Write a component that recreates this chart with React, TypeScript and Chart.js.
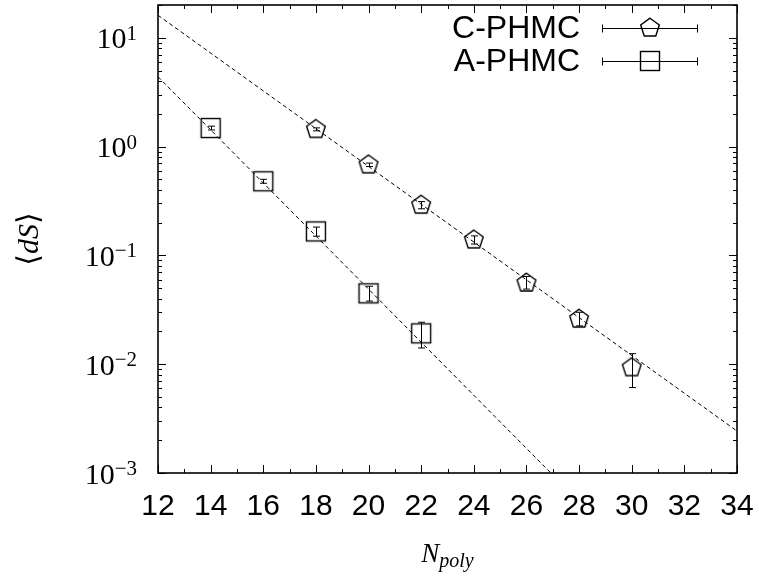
import React, { useEffect, useRef } from 'react';
import { Chart, registerables } from 'chart.js';

Chart.register(...registerables);

// C-PHMC (pentagons)
const cX = [18, 20, 22, 24, 26, 28, 30];
const cY = [1.44, 0.68, 0.29, 0.139, 0.0558, 0.026, 0.0093];
const cLo = [1.395, 0.655, 0.268, 0.127, 0.049, 0.0225, 0.0061];
const cHi = [1.485, 0.705, 0.312, 0.151, 0.064, 0.030, 0.0125];

// A-PHMC (squares)
const aX = [14, 16, 18, 20, 22];
const aY = [1.48, 0.48, 0.166, 0.0448, 0.0192];
const aLo = [1.42, 0.46, 0.150, 0.038, 0.0141];
const aHi = [1.54, 0.50, 0.182, 0.052, 0.0243];

// fitted dashed lines (end points)
const cFitX = [12, 34];
const cFitY = [16.1, 0.00243];
const aFitX = [12, 27];
const aFitY = [4.38, 0.00096];

const xMin = 12;
const xMax = 34;
const yMin = 0.001;
const yMax = 20;
const yDecades = [-3, -2, -1, 0, 1];
const legendLabels = ['C-PHMC', 'A-PHMC'];

function makePentagon(): HTMLCanvasElement {
  const c = document.createElement('canvas');
  c.width = 24;
  c.height = 24;
  const g = c.getContext('2d')!;
  const cx = 12, cy = 12, R = 9.8;
  g.beginPath();
  for (let k = 0; k < 5; k++) {
    const a = -Math.PI / 2 + (k * 2 * Math.PI) / 5;
    const px = cx + R * Math.cos(a);
    const py = cy + R * Math.sin(a);
    if (k === 0) g.moveTo(px, py);
    else g.lineTo(px, py);
  }
  g.closePath();
  g.strokeStyle = '#000';
  g.lineWidth = 1.4;
  g.stroke();
  return c;
}

function makeSquare(): HTMLCanvasElement {
  const c = document.createElement('canvas');
  c.width = 24;
  c.height = 24;
  const g = c.getContext('2d')!;
  g.strokeStyle = '#000';
  g.lineWidth = 1.4;
  g.strokeRect(2.5, 2.5, 19, 19);
  return c;
}

export default function App() {
  const ref = useRef<HTMLCanvasElement>(null);

  useEffect(() => {
    if (!ref.current) return;
    const pent = makePentagon();
    const sq = makeSquare();

    const errorBars = {
      id: 'errorBars',
      afterDatasetsDraw(chart: any) {
        const ctx = chart.ctx;
        const xs = chart.scales.x;
        const ys = chart.scales.y;
        ctx.save();
        ctx.strokeStyle = '#000';
        ctx.lineWidth = 1;
        const draw = (X: number[], L: number[], H: number[]) => {
          X.forEach((xv, i) => {
            const px = Math.round(xs.getPixelForValue(xv)) + 0.5;
            const p1 = ys.getPixelForValue(L[i]);
            const p2 = ys.getPixelForValue(H[i]);
            ctx.beginPath();
            ctx.moveTo(px, p1);
            ctx.lineTo(px, p2);
            ctx.moveTo(px - 3.5, p1);
            ctx.lineTo(px + 3.5, p1);
            ctx.moveTo(px - 3.5, p2);
            ctx.lineTo(px + 3.5, p2);
            ctx.stroke();
          });
        };
        draw(cX, cLo, cHi);
        draw(aX, aLo, aHi);
        ctx.restore();
      },
    };

    const decor = {
      id: 'decor',
      afterDraw(chart: any) {
        const ctx = chart.ctx;
        const a = chart.chartArea;
        const xs = chart.scales.x;
        const ys = chart.scales.y;
        ctx.save();
        ctx.strokeStyle = '#000';
        // ticks
        ctx.lineWidth = 1;
        ctx.beginPath();
        for (let v = xMin; v <= xMax; v++) {
          const px = Math.round(xs.getPixelForValue(v)) + 0.5;
          const len = v % 2 === 0 ? 8 : 4;
          ctx.moveTo(px, a.bottom);
          ctx.lineTo(px, a.bottom - len);
          ctx.moveTo(px, a.top);
          ctx.lineTo(px, a.top + len);
        }
        for (const d of yDecades) {
          for (let m = 1; m <= 9; m++) {
            const v = m * Math.pow(10, d);
            if (v < yMin || v > yMax) continue;
            const py = Math.round(ys.getPixelForValue(v)) + 0.5;
            const len = m === 1 ? 8 : 4;
            ctx.moveTo(a.left, py);
            ctx.lineTo(a.left + len, py);
            ctx.moveTo(a.right, py);
            ctx.lineTo(a.right - len, py);
          }
        }
        ctx.stroke();
        // frame
        ctx.lineWidth = 1.6;
        ctx.strokeRect(a.left, a.top, a.right - a.left, a.bottom - a.top);

        // y tick labels 10^n
        ctx.fillStyle = '#000';
        ctx.textBaseline = 'alphabetic';
        for (const d of yDecades) {
          const py = ys.getPixelForValue(Math.pow(10, d));
          const sup = d < 0 ? '\u2212' + String(-d) : String(d);
          ctx.font = '21px "Liberation Serif", "DejaVu Serif", serif';
          ctx.textAlign = 'right';
          const supW = ctx.measureText(sup).width;
          const right = a.left - 21;
          ctx.fillText(sup, right, py + 2);
          ctx.font = '30px "Liberation Serif", "DejaVu Serif", serif';
          ctx.fillText('10', right - supW, py + 10.5);
        }

        // x axis title N_poly
        ctx.textAlign = 'left';
        ctx.font = 'italic 27px "Liberation Serif", "DejaVu Serif", serif';
        const nW = ctx.measureText('N').width;
        ctx.font = 'italic 20px "Liberation Serif", "DejaVu Serif", serif';
        const pW = ctx.measureText('poly').width;
        const cxm = (a.left + a.right) / 2;
        const start = cxm - (nW + pW) / 2;
        ctx.font = 'italic 27px "Liberation Serif", "DejaVu Serif", serif';
        ctx.fillText('N', start, 562);
        ctx.font = 'italic 20px "Liberation Serif", "DejaVu Serif", serif';
        ctx.fillText('poly', start + nW, 567);

        // y axis title <dS>
        ctx.save();
        ctx.translate(38, (a.top + a.bottom) / 2);
        ctx.rotate(-Math.PI / 2);
        const f1 = '30px "Liberation Serif", "DejaVu Serif", serif';
        const f2 = 'italic 30px "Liberation Serif", "DejaVu Serif", serif';
        const parts: [string, string][] = [['\u27E8', f1], ['dS', f2], ['\u27E9', f1]];
        let tw = 0;
        for (const [t, f] of parts) { ctx.font = f; tw += ctx.measureText(t).width; }
        let xx = -tw / 2;
        for (const [t, f] of parts) {
          ctx.font = f;
          ctx.fillText(t, xx, 0);
          xx += ctx.measureText(t).width;
        }
        ctx.restore();

        // legend
        const rows = [
          { label: legendLabels[0], y: 28, img: pent },
          { label: legendLabels[1], y: 61, img: sq },
        ];
        ctx.font = '32px "Liberation Sans", Arial, sans-serif';
        ctx.textAlign = 'right';
        ctx.textBaseline = 'middle';
        ctx.lineWidth = 1;
        for (const r of rows) {
          ctx.fillText(r.label, 580, r.y + 1);
          const yy = r.y + 0.5;
          ctx.beginPath();
          ctx.moveTo(602, yy);
          ctx.lineTo(698, yy);
          ctx.moveTo(602.5, yy - 4);
          ctx.lineTo(602.5, yy + 4);
          ctx.moveTo(697.5, yy - 4);
          ctx.lineTo(697.5, yy + 4);
          ctx.stroke();
          ctx.drawImage(r.img, 650 - r.img.width / 2, r.y - r.img.height / 2);
        }
        ctx.restore();
      },
    };

    const chart = new Chart(ref.current, {
      type: 'line',
      data: {
        datasets: [
          {
            label: 'C fit',
            data: cFitX.map((x, i) => ({ x, y: cFitY[i] })),
            borderColor: '#000',
            borderWidth: 1,
            borderDash: [4, 3],
            pointRadius: 0,
            fill: false,
          },
          {
            label: 'A fit',
            data: aFitX.map((x, i) => ({ x, y: aFitY[i] })),
            borderColor: '#000',
            borderWidth: 1,
            borderDash: [4, 3],
            pointRadius: 0,
            fill: false,
          },
          {
            label: legendLabels[0],
            data: cX.map((x, i) => ({ x, y: cY[i] })),
            showLine: false,
            pointStyle: pent as any,
            pointRadius: 10,
          },
          {
            label: legendLabels[1],
            data: aX.map((x, i) => ({ x, y: aY[i] })),
            showLine: false,
            pointStyle: sq as any,
            pointRadius: 10,
          },
        ],
      },
      options: {
        animation: false,
        responsive: false,
        maintainAspectRatio: false,
        layout: { autoPadding: false, padding: { top: 5, right: 22, left: 0, bottom: 0 } },
        plugins: { legend: { display: false }, tooltip: { enabled: false } },
        scales: {
          x: {
            type: 'linear',
            min: xMin,
            max: xMax,
            ticks: {
              stepSize: 2,
              color: '#000',
              padding: 16,
              maxRotation: 0,
              autoSkip: false,
              font: { family: '"Liberation Sans", Arial, sans-serif', size: 30 },
            },
            grid: { display: false, drawTicks: false },
            border: { display: false },
            afterFit: (s: any) => {
              s.height = 106;
              s.paddingLeft = 0;
              s.paddingRight = 0;
            },
          },
          y: {
            type: 'logarithmic',
            min: yMin,
            max: yMax,
            ticks: { display: false },
            grid: { display: false, drawTicks: false },
            border: { display: false },
            afterFit: (s: any) => {
              s.width = 158;
              s.paddingTop = 0;
              s.paddingBottom = 0;
            },
          },
        },
      },
      plugins: [errorBars, decor],
    });
    return () => chart.destroy();
  }, []);

  return (
    <div style={{ position: 'absolute', left: 0, top: 0, width: 759, height: 579, background: '#fff' }}>
      <canvas ref={ref} width={759} height={579} style={{ display: 'block', width: 759, height: 579 }} />
    </div>
  );
}
